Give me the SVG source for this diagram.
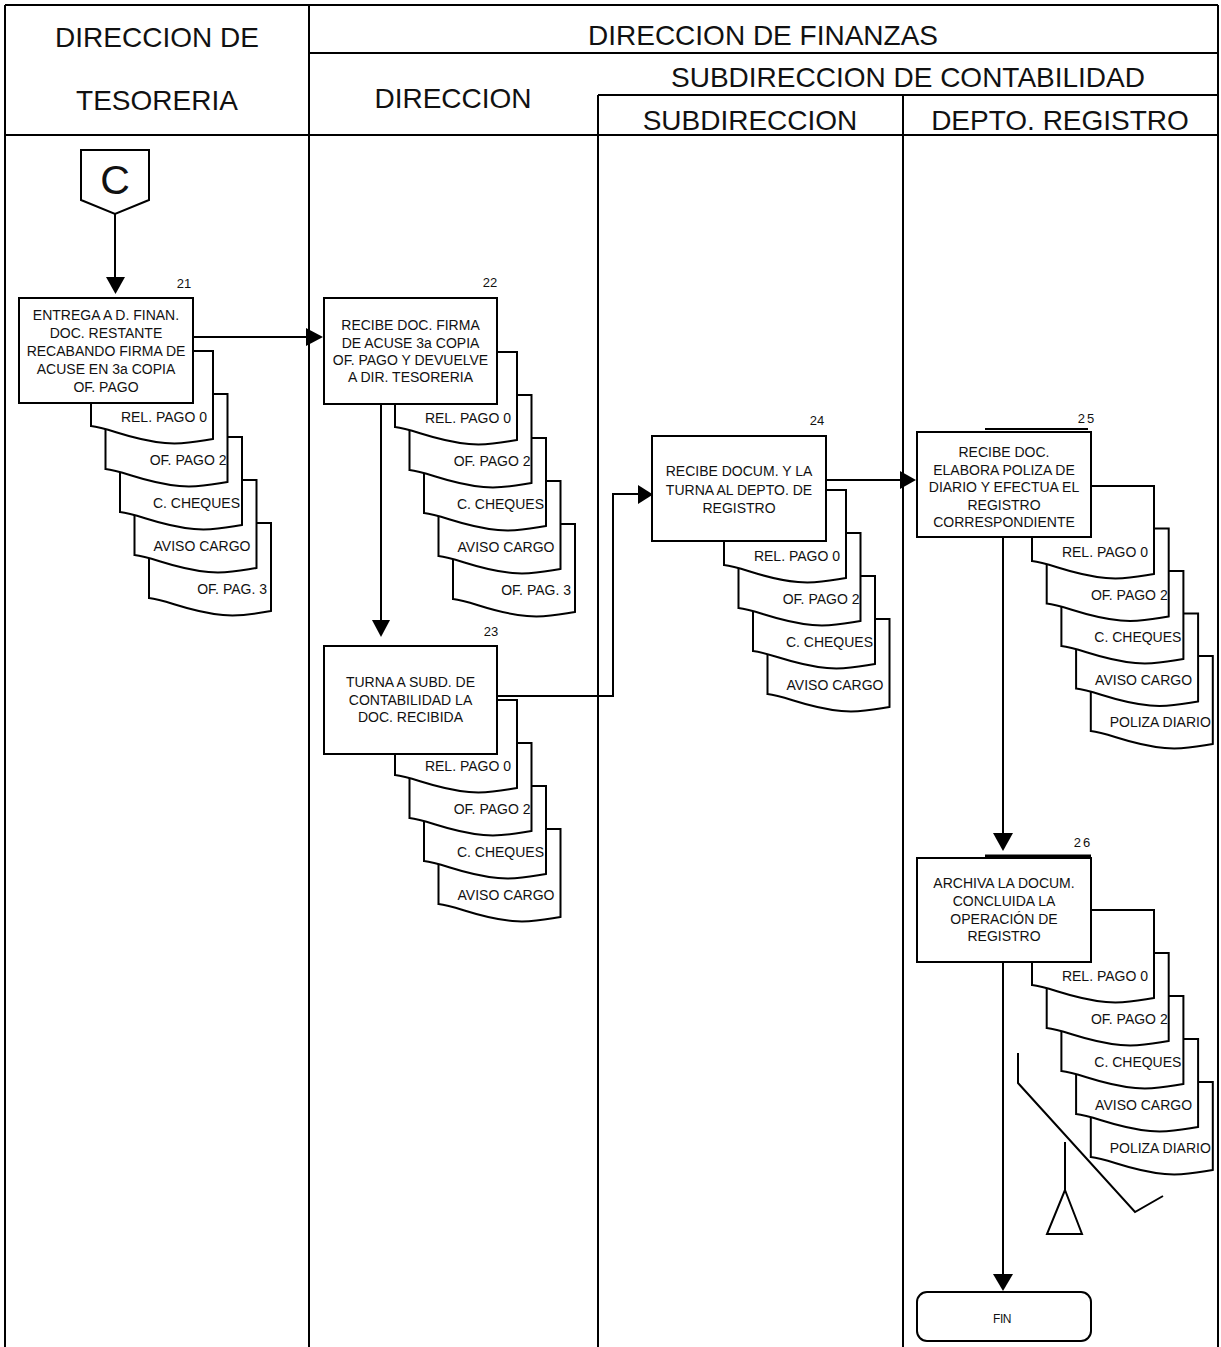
<svg xmlns="http://www.w3.org/2000/svg" xmlns:xlink="http://www.w3.org/1999/xlink" width="1221" height="1347" viewBox="0 0 1221 1347">
<style>
.ln{stroke:#000;stroke-width:2;fill:none}
.box{stroke:#000;stroke-width:2;fill:#fff}
.hd{font-family:"Liberation Sans",Arial,sans-serif;font-size:28px;fill:#111;text-anchor:middle}
.tx{font-family:"Liberation Sans",Arial,sans-serif;font-size:14px;fill:#111;text-anchor:middle}
.dt{font-family:"Liberation Sans",Arial,sans-serif;font-size:14px;fill:#111;text-anchor:end}
.num{font-family:"Liberation Sans",Arial,sans-serif;font-size:13px;fill:#111;text-anchor:middle}
.ah{fill:#000;stroke:none}
</style>
<defs>
<path id="doc" d="M0,0 H122 V88 C109,90 94,94 74,92 C39,89 19,77 0,75 Z" fill="#fff" stroke="#000" stroke-width="2"/>
</defs>
<rect width="1221" height="1347" fill="#fff"/>
<g id="lanes">
<line class="ln" x1="5" y1="5" x2="1218" y2="5"/>
<line class="ln" x1="5" y1="5" x2="5" y2="1347"/>
<line class="ln" x1="1218" y1="5" x2="1218" y2="1347"/>
<line class="ln" x1="309" y1="5" x2="309" y2="1347"/>
<line class="ln" x1="598" y1="95" x2="598" y2="1347"/>
<line class="ln" x1="903" y1="95" x2="903" y2="1347"/>
<line class="ln" x1="309" y1="53" x2="1218" y2="53"/>
<line class="ln" x1="598" y1="95" x2="1218" y2="95"/>
<line class="ln" x1="5" y1="135" x2="1218" y2="135"/>
<text class="hd" x="157" y="47">DIRECCION DE</text>
<text class="hd" x="157" y="110">TESORERIA</text>
<text class="hd" x="763" y="45">DIRECCION DE FINANZAS</text>
<text class="hd" x="453" y="108">DIRECCION</text>
<text class="hd" x="908" y="87">SUBDIRECCION DE CONTABILIDAD</text>
<text class="hd" x="750" y="130">SUBDIRECCION</text>
<text class="hd" x="1060" y="130">DEPTO. REGISTRO</text>
</g>
<g id="connectors">
<line class="ln" x1="115" y1="214" x2="115" y2="278"/>
<polygon class="ah" points="106,277 125,277 115.5,294"/>
<line class="ln" x1="193" y1="337" x2="307" y2="337"/>
<polygon class="ah" points="306,328 306,346 323,337"/>
<line class="ln" x1="381" y1="404" x2="381" y2="621"/>
<polygon class="ah" points="372,620 390,620 381,637"/>
<polyline class="ln" points="497,696 613,696 613,494 640,494"/>
<polygon class="ah" points="638,485 638,504 653,494.5"/>
<line class="ln" x1="826" y1="480" x2="901" y2="480"/>
<polygon class="ah" points="900,471 900,489 916,480"/>
<line class="ln" x1="1003" y1="537" x2="1003" y2="834"/>
<polygon class="ah" points="993,833 1013,833 1003,851"/>
<line class="ln" x1="1003" y1="962" x2="1003" y2="1275"/>
<polygon class="ah" points="993,1274 1013,1274 1003,1291"/>
</g>
<g id="nodeC">
<polygon class="box" points="81,150 149,150 149,200 115,214 81,200"/>
<text x="115" y="194" font-family="Liberation Sans, Arial, sans-serif" font-size="41" text-anchor="middle" fill="#111">C</text>
</g>
<g id="node21">
<use xlink:href="#doc" href="#doc" x="149" y="523"/>
<use xlink:href="#doc" href="#doc" x="134.5" y="480"/>
<use xlink:href="#doc" href="#doc" x="120" y="437"/>
<use xlink:href="#doc" href="#doc" x="105.5" y="394"/>
<use xlink:href="#doc" href="#doc" x="91" y="351"/>
<text class="dt" x="207" y="422">REL. PAGO 0</text>
<text class="dt" x="226.5" y="465">OF. PAGO 2</text>
<text class="dt" x="240" y="508">C. CHEQUES</text>
<text class="dt" x="250.5" y="551">AVISO CARGO</text>
<text class="dt" x="267" y="594">OF. PAG. 3</text>
<rect class="box" x="19" y="298" width="174" height="105"/>
<text class="tx" x="106" y="320">ENTREGA A D. FINAN.</text>
<text class="tx" x="106" y="338">DOC. RESTANTE</text>
<text class="tx" x="106" y="356">RECABANDO FIRMA DE</text>
<text class="tx" x="106" y="374">ACUSE EN 3a COPIA</text>
<text class="tx" x="106" y="392">OF. PAGO</text>
<text class="num" x="184" y="288">21</text>
</g>
<g id="node22">
<use xlink:href="#doc" href="#doc" x="453" y="524"/>
<use xlink:href="#doc" href="#doc" x="438.5" y="481"/>
<use xlink:href="#doc" href="#doc" x="424" y="438"/>
<use xlink:href="#doc" href="#doc" x="409.5" y="395"/>
<use xlink:href="#doc" href="#doc" x="395" y="352"/>
<text class="dt" x="511" y="423">REL. PAGO 0</text>
<text class="dt" x="530.5" y="466">OF. PAGO 2</text>
<text class="dt" x="544" y="509">C. CHEQUES</text>
<text class="dt" x="554.5" y="552">AVISO CARGO</text>
<text class="dt" x="571" y="595">OF. PAG. 3</text>
<rect class="box" x="324" y="298" width="173" height="106"/>
<text class="tx" x="410.5" y="330">RECIBE DOC. FIRMA</text>
<text class="tx" x="410.5" y="348">DE ACUSE 3a COPIA</text>
<text class="tx" x="410.5" y="365">OF. PAGO Y DEVUELVE</text>
<text class="tx" x="410.5" y="382">A DIR. TESORERIA</text>
<text class="num" x="490" y="287">22</text>
</g>
<g id="node23">
<use xlink:href="#doc" href="#doc" x="438.5" y="829"/>
<use xlink:href="#doc" href="#doc" x="424" y="786"/>
<use xlink:href="#doc" href="#doc" x="409.5" y="743"/>
<use xlink:href="#doc" href="#doc" x="395" y="700"/>
<text class="dt" x="511" y="771">REL. PAGO 0</text>
<text class="dt" x="530.5" y="814">OF. PAGO 2</text>
<text class="dt" x="544" y="857">C. CHEQUES</text>
<text class="dt" x="554.5" y="900">AVISO CARGO</text>
<rect class="box" x="324" y="646" width="173" height="108"/>
<text class="tx" x="410.5" y="687">TURNA A SUBD. DE</text>
<text class="tx" x="410.5" y="704.5">CONTABILIDAD LA</text>
<text class="tx" x="410.5" y="722">DOC. RECIBIDA</text>
<text class="num" x="491" y="636">23</text>
</g>
<g id="node24">
<use xlink:href="#doc" href="#doc" x="767.5" y="619"/>
<use xlink:href="#doc" href="#doc" x="753" y="576"/>
<use xlink:href="#doc" href="#doc" x="738.5" y="533"/>
<use xlink:href="#doc" href="#doc" x="724" y="490"/>
<text class="dt" x="840" y="561">REL. PAGO 0</text>
<text class="dt" x="859.5" y="604">OF. PAGO 2</text>
<text class="dt" x="873" y="647">C. CHEQUES</text>
<text class="dt" x="883.5" y="690">AVISO CARGO</text>
<rect class="box" x="652" y="436" width="174" height="105"/>
<text class="tx" x="739" y="476">RECIBE DOCUM. Y LA</text>
<text class="tx" x="739" y="495">TURNA AL DEPTO. DE</text>
<text class="tx" x="739" y="513">REGISTRO</text>
<text class="num" x="817" y="425">24</text>
</g>
<g id="node25">
<use xlink:href="#doc" href="#doc" x="1090.8" y="656"/>
<use xlink:href="#doc" href="#doc" x="1076.1" y="613.5"/>
<use xlink:href="#doc" href="#doc" x="1061.4" y="571"/>
<use xlink:href="#doc" href="#doc" x="1046.7" y="528.5"/>
<use xlink:href="#doc" href="#doc" x="1032" y="486"/>
<text class="dt" x="1148" y="557">REL. PAGO 0</text>
<text class="dt" x="1167.7" y="599.5">OF. PAGO 2</text>
<text class="dt" x="1181.4" y="642">C. CHEQUES</text>
<text class="dt" x="1192.1" y="684.5">AVISO CARGO</text>
<text class="dt" x="1210.8" y="727">POLIZA DIARIO</text>
<line class="ln" x1="985" y1="429" x2="1088" y2="429"/>
<rect class="box" x="917" y="432" width="174" height="105"/>
<text class="tx" x="1004" y="457">RECIBE DOC.</text>
<text class="tx" x="1004" y="474.5">ELABORA POLIZA DE</text>
<text class="tx" x="1004" y="492">DIARIO Y EFECTUA EL</text>
<text class="tx" x="1004" y="509.5">REGISTRO</text>
<text class="tx" x="1004" y="527">CORRESPONDIENTE</text>
<text class="num" x="1087" y="423" letter-spacing="2">25</text>
</g>
<g id="node26">
<use xlink:href="#doc" href="#doc" x="1090.8" y="1082"/>
<use xlink:href="#doc" href="#doc" x="1076.1" y="1039"/>
<use xlink:href="#doc" href="#doc" x="1061.4" y="996"/>
<use xlink:href="#doc" href="#doc" x="1046.7" y="953"/>
<use xlink:href="#doc" href="#doc" x="1032" y="910"/>
<text class="dt" x="1148" y="981">REL. PAGO 0</text>
<text class="dt" x="1167.7" y="1024">OF. PAGO 2</text>
<text class="dt" x="1181.4" y="1067">C. CHEQUES</text>
<text class="dt" x="1192.1" y="1110">AVISO CARGO</text>
<text class="dt" x="1210.8" y="1153">POLIZA DIARIO</text>
<line x1="985" y1="856" x2="1091" y2="856" stroke="#000" stroke-width="3"/>
<rect class="box" x="917" y="858" width="174" height="104"/>
<text class="tx" x="1004" y="888">ARCHIVA LA DOCUM.</text>
<text class="tx" x="1004" y="906">CONCLUIDA LA</text>
<text class="tx" x="1004" y="924">OPERACIÓN DE</text>
<text class="tx" x="1004" y="941">REGISTRO</text>
<text class="num" x="1083" y="847" letter-spacing="2">26</text>
</g>
<g id="decor">
<polyline class="ln" points="1018,1053 1018,1083 1135,1212 1163,1196"/>
<line class="ln" x1="1065" y1="1142" x2="1065" y2="1190"/>
<polygon class="ln" points="1065,1190 1082,1234 1047,1234"/>
</g>
<g id="nodeFIN">
<rect class="box" x="917" y="1292" width="174" height="49" rx="10"/>
<text x="1002" y="1323" font-family="Liberation Sans, Arial, sans-serif" font-size="12" letter-spacing="-0.5" text-anchor="middle" fill="#111">FIN</text>
</g>
</svg>
